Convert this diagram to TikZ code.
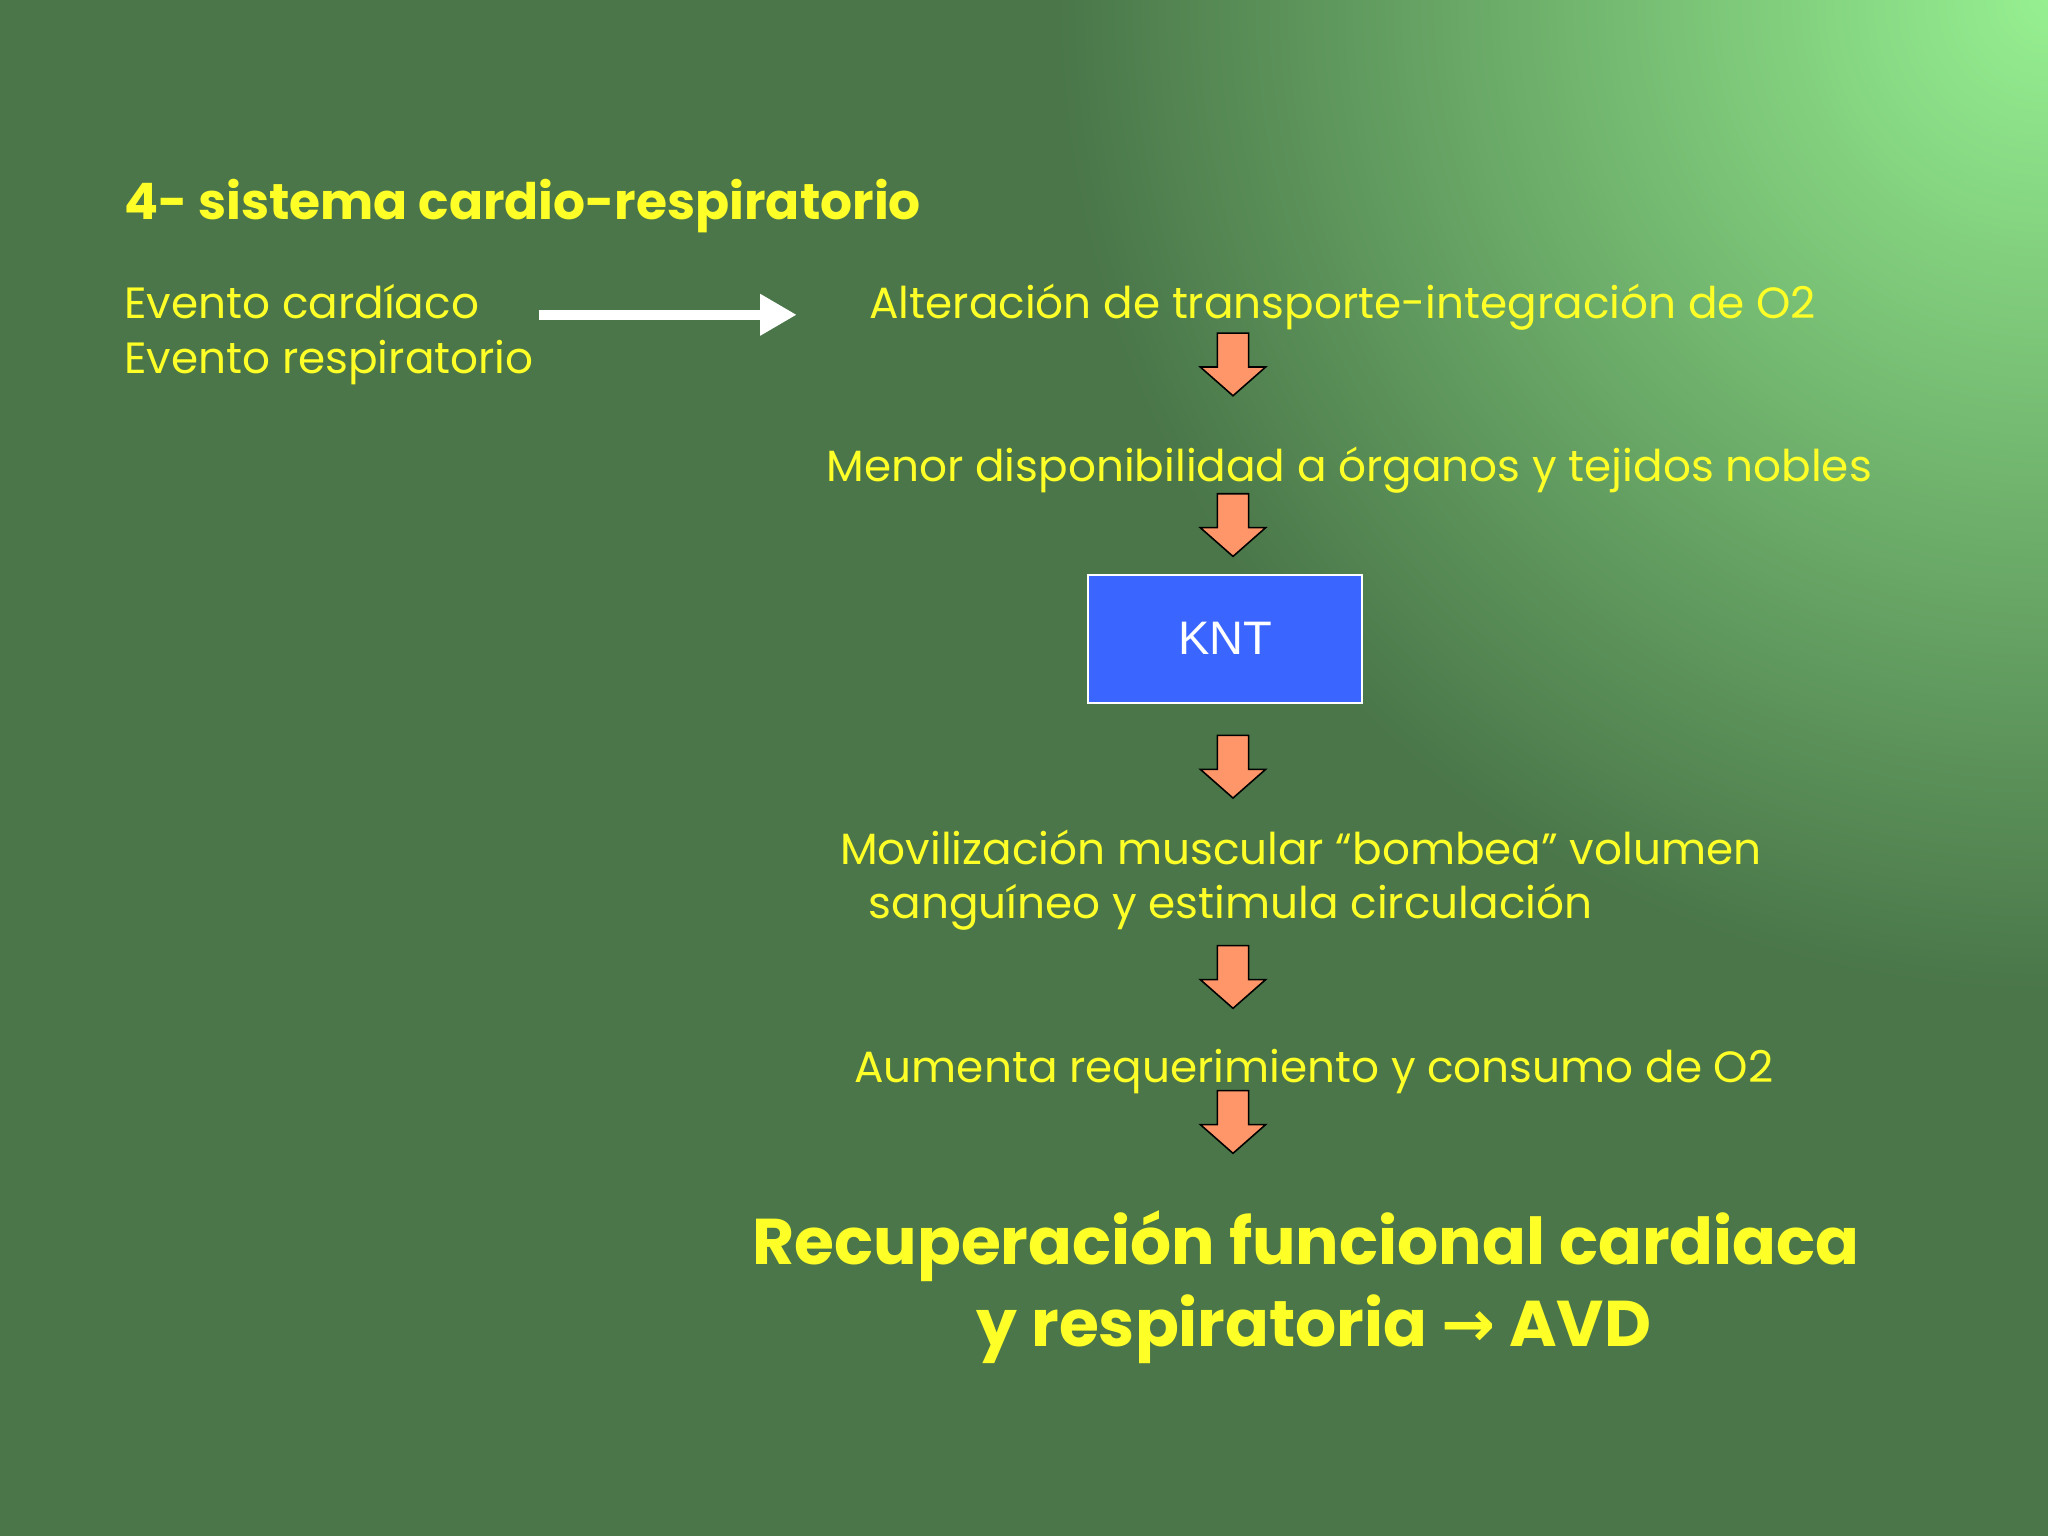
\documentclass[tikz,border=0pt]{standalone}
\usepackage{fontspec}
\setmainfont{Poppins}
\newfontfamily\arialf{Liberation Sans}
\usetikzlibrary{arrows.meta}
\definecolor{bg}{RGB}{74,118,73}
\definecolor{glow}{RGB}{150,240,145}
\definecolor{ytext}{RGB}{255,255,40}
\definecolor{orarrow}{RGB}{255,150,105}
\definecolor{kntblue}{RGB}{58,102,255}
\tikzset{
  body/.style={text=ytext,font=\fontsize{33.5}{38}\selectfont,inner sep=0pt},
  big/.style={text=ytext,font=\fontsize{49.5}{56}\selectfont\bfseries,inner sep=0pt},
  downarr/.style={draw=black,line width=1.2pt,fill=orarrow,line join=miter}
}
\newcommand\blockdown[2]{%
  \coordinate (#1) at (#2);
  \draw[downarr] ([shift={(-12,-24)}]#1) -- ([shift={(12,-24)}]#1) -- ([shift={(12,2)}]#1)
    -- ([shift={(25,2)}]#1) -- ([shift={(0,24)}]#1) -- ([shift={(-25,2)}]#1)
    -- ([shift={(-12,2)}]#1) -- cycle;}
\begin{document}
\begin{tikzpicture}[x=1pt,y=-1pt]
\fill[bg] (0,0) rectangle (1568,1176);
\begin{scope}
\clip (0,0) rectangle (1568,1176);
\shade[inner color=glow,outer color=bg] (1568,0) circle (760);
\end{scope}
\useasboundingbox (0,0) rectangle (1568,1176);
\node[anchor=base west,text=ytext,font=\fontsize{38.5}{42}\selectfont\bfseries,inner sep=0pt] (title) at (95,168) {4- sistema cardio-respiratorio};
\node[body,anchor=base west] (ev1) at (95,244) {Evento cardíaco};
\node[body,anchor=base west] (ev2) at (95,286) {Evento respiratorio};
\coordinate (wa) at (413,241);
\coordinate (wb) at (610,241);
\draw[white,line width=8pt,-{Triangle[length=28pt,width=30pt]}] (wa) -- (wb);
\node[body,anchor=base] (alt) at (1028,244) {Alteración de transporte-integración de O2};
\blockdown{a1}{944,279}
\node[body,anchor=base] (men) at (1033,369) {Menor disponibilidad a órganos y tejidos nobles};
\blockdown{a2}{944,402}
\node[draw=white,line width=1.5pt,fill=kntblue,minimum width=210pt,minimum height=98pt,text=white,font=\arialf\fontsize{36}{40}\selectfont] (knt) at (938,489) {KNT};
\blockdown{a3}{944,587}
\node[body,anchor=base west] (mov1) at (643,662) {Movilización muscular “bombea” volumen};
\node[body,anchor=base west] (mov2) at (665,703) {sanguíneo y estimula circulación};
\blockdown{a4}{944,748}
\node[body,anchor=base] (aum) at (1006,829) {Aumenta requerimiento y consumo de O2};
\blockdown{a5}{944,859}
\node[big,anchor=base] (rec1) at (1000,968) {Recuperación funcional cardiaca};
\node[big,anchor=base] (rec2) at (1006,1031) {y respiratoria {\fontspec{DejaVu Sans}\bfseries →} AVD};
\end{tikzpicture}
\end{document}
